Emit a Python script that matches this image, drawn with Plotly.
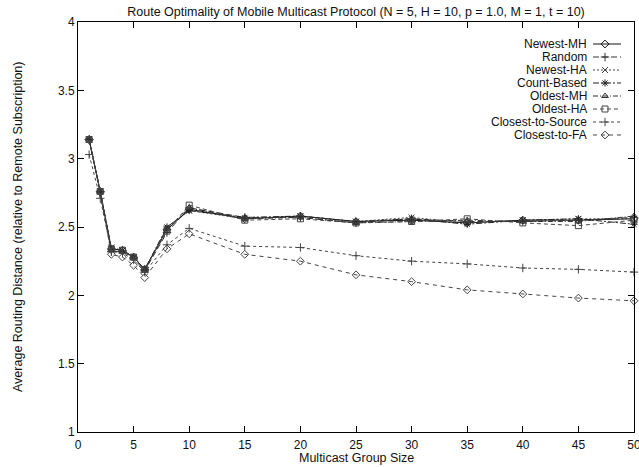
import plotly.graph_objects as go

group_size = [1, 2, 3, 4, 5, 6, 8, 10, 15, 20, 25, 30, 35, 40, 45, 50]

newest_mh = [3.14, 2.76, 2.34, 2.33, 2.28, 2.19, 2.48, 2.63, 2.56, 2.58, 2.54, 2.55, 2.53, 2.55, 2.55, 2.56]
random_ = [3.14, 2.75, 2.32, 2.32, 2.27, 2.18, 2.46, 2.64, 2.57, 2.57, 2.53, 2.56, 2.54, 2.54, 2.55, 2.57]
newest_ha = [3.14, 2.76, 2.35, 2.33, 2.28, 2.19, 2.49, 2.62, 2.56, 2.58, 2.54, 2.57, 2.53, 2.55, 2.56, 2.56]
count_based = [3.14, 2.76, 2.34, 2.33, 2.28, 2.19, 2.50, 2.62, 2.57, 2.58, 2.54, 2.56, 2.52, 2.55, 2.56, 2.52]
oldest_mh = [3.14, 2.76, 2.33, 2.32, 2.28, 2.19, 2.49, 2.64, 2.56, 2.57, 2.53, 2.54, 2.55, 2.54, 2.54, 2.58]
oldest_ha = [3.14, 2.76, 2.34, 2.33, 2.28, 2.19, 2.47, 2.66, 2.55, 2.56, 2.53, 2.54, 2.56, 2.53, 2.51, 2.55]
closest_src = [3.03, 2.71, 2.32, 2.31, 2.26, 2.17, 2.37, 2.49, 2.36, 2.35, 2.29, 2.25, 2.23, 2.20, 2.19, 2.17]
closest_fa = [3.14, 2.76, 2.30, 2.28, 2.22, 2.13, 2.34, 2.45, 2.30, 2.25, 2.15, 2.10, 2.04, 2.01, 1.98, 1.96]

series_names = ["Newest-MH", "Random", "Newest-HA", "Count-Based",
                "Oldest-MH", "Oldest-HA", "Closest-to-Source", "Closest-to-FA"]
series_values = [newest_mh, random_, newest_ha, count_based,
                 oldest_mh, oldest_ha, closest_src, closest_fa]

x_ticks = [0, 5, 10, 15, 20, 25, 30, 35, 40, 45, 50]
y_ticks = [1, 1.5, 2, 2.5, 3, 3.5, 4]

styles = [
    dict(dash="solid", symbol="diamond-open", color="#111111"),
    dict(dash="6px,3px", symbol="cross-thin-open", color="#333333"),
    dict(dash="2px,2px", symbol="x-thin-open", color="#444444"),
    dict(dash="6px,2px,2px,2px", symbol="asterisk-open", color="#222222"),
    dict(dash="5px,2px,1px,2px", symbol="triangle-up-open", color="#333333"),
    dict(dash="4px,3px", symbol="square-open", color="#444444"),
    dict(dash="3px,3px", symbol="cross-thin-open", color="#444444"),
    dict(dash="4px,4px", symbol="diamond-open", color="#444444"),
]

W, H = 639, 467
L, R, T, B = 78, 5, 22, 35
pw, ph = W - L - R, H - T - B

fig = go.Figure()
font = "Liberation Sans, Arial, sans-serif"

for name, vals, st in zip(series_names, series_values, styles):
    fig.add_trace(go.Scatter(
        x=group_size, y=vals, mode="lines+markers", name=name,
        line=dict(color=st["color"], width=1, dash=st["dash"]),
        marker=dict(symbol=st["symbol"], size=6, color=st["color"],
                    line=dict(width=1, color=st["color"])),
        cliponaxis=False, showlegend=False,
    ))

# custom gnuplot-style legend (text right, sample on right)
x0 = (593 - L) / pw
x1 = (621 - L) / pw
xm = (605 - L) / pw
xt = 589
for i, (name, st) in enumerate(zip(series_names, styles)):
    ypx = 44 + 13.0 * i
    yf = 1 - (ypx - T) / ph
    fig.add_trace(go.Scatter(
        x=[x0, x1], y=[yf, yf], mode="lines", xaxis="x2", yaxis="y2",
        line=dict(color=st["color"], width=1, dash=st["dash"]),
        showlegend=False, hoverinfo="skip", cliponaxis=False))
    fig.add_trace(go.Scatter(
        x=[xm], y=[yf], mode="markers", xaxis="x2", yaxis="y2",
        marker=dict(symbol=st["symbol"], size=6, color=st["color"],
                    line=dict(width=1, color=st["color"])),
        showlegend=False, hoverinfo="skip", cliponaxis=False))
    fig.add_annotation(text=name, xref="paper", yref="paper",
                       x=(xt - L) / pw, y=yf, xanchor="right", yanchor="middle",
                       showarrow=False, font=dict(size=12, color="#111111", family=font))

axis_common = dict(showline=True, linecolor="black", linewidth=1, mirror="ticks",
                   ticks="inside", ticklen=6, tickcolor="black", showgrid=False,
                   zeroline=False, ticklabeloverflow="allow", automargin=False,
                   tickfont=dict(size=12, color="#111111", family=font))

fig.update_layout(
    width=W, height=H,
    margin=dict(l=L, r=R, t=T, b=B, autoexpand=False),
    paper_bgcolor="white", plot_bgcolor="white",
    font=dict(family=font, size=12, color="#111111"),
    title=dict(text="Route Optimality of Mobile Multicast Protocol (N = 5, H = 10, p = 1.0, M = 1, t = 10)",
               x=(356) / W, xanchor="center", y=1 - 12 / H, yanchor="middle",
               font=dict(size=12.5, family=font, color="#111111")),
    xaxis=dict(range=[0, 50], tickvals=x_ticks, ticktext=[str(v) for v in x_ticks],
               ticklabelstandoff=2, **axis_common),
    yaxis=dict(range=[1, 4], tickvals=y_ticks, ticktext=[f"{v:g}" for v in y_ticks], **axis_common),
    xaxis2=dict(range=[0, 1], overlaying="x", visible=False, fixedrange=True),
    yaxis2=dict(range=[0, 1], overlaying="y", visible=False, fixedrange=True),
)

fig.add_annotation(text="Multicast Group Size", xref="paper", yref="paper",
                   x=0.5, y=-(458 - (T + ph)) / ph, xanchor="center", yanchor="middle",
                   showarrow=False, font=dict(size=12.5, family=font, color="#111111"))
fig.add_annotation(text="Average Routing Distance (relative to Remote Subscription)",
                   xref="paper", yref="paper", x=-(L - 18) / pw, y=0.5, textangle=-90,
                   xanchor="center", yanchor="middle", showarrow=False,
                   font=dict(size=12.5, family=font, color="#111111"))

fig.write_html("out.html")
